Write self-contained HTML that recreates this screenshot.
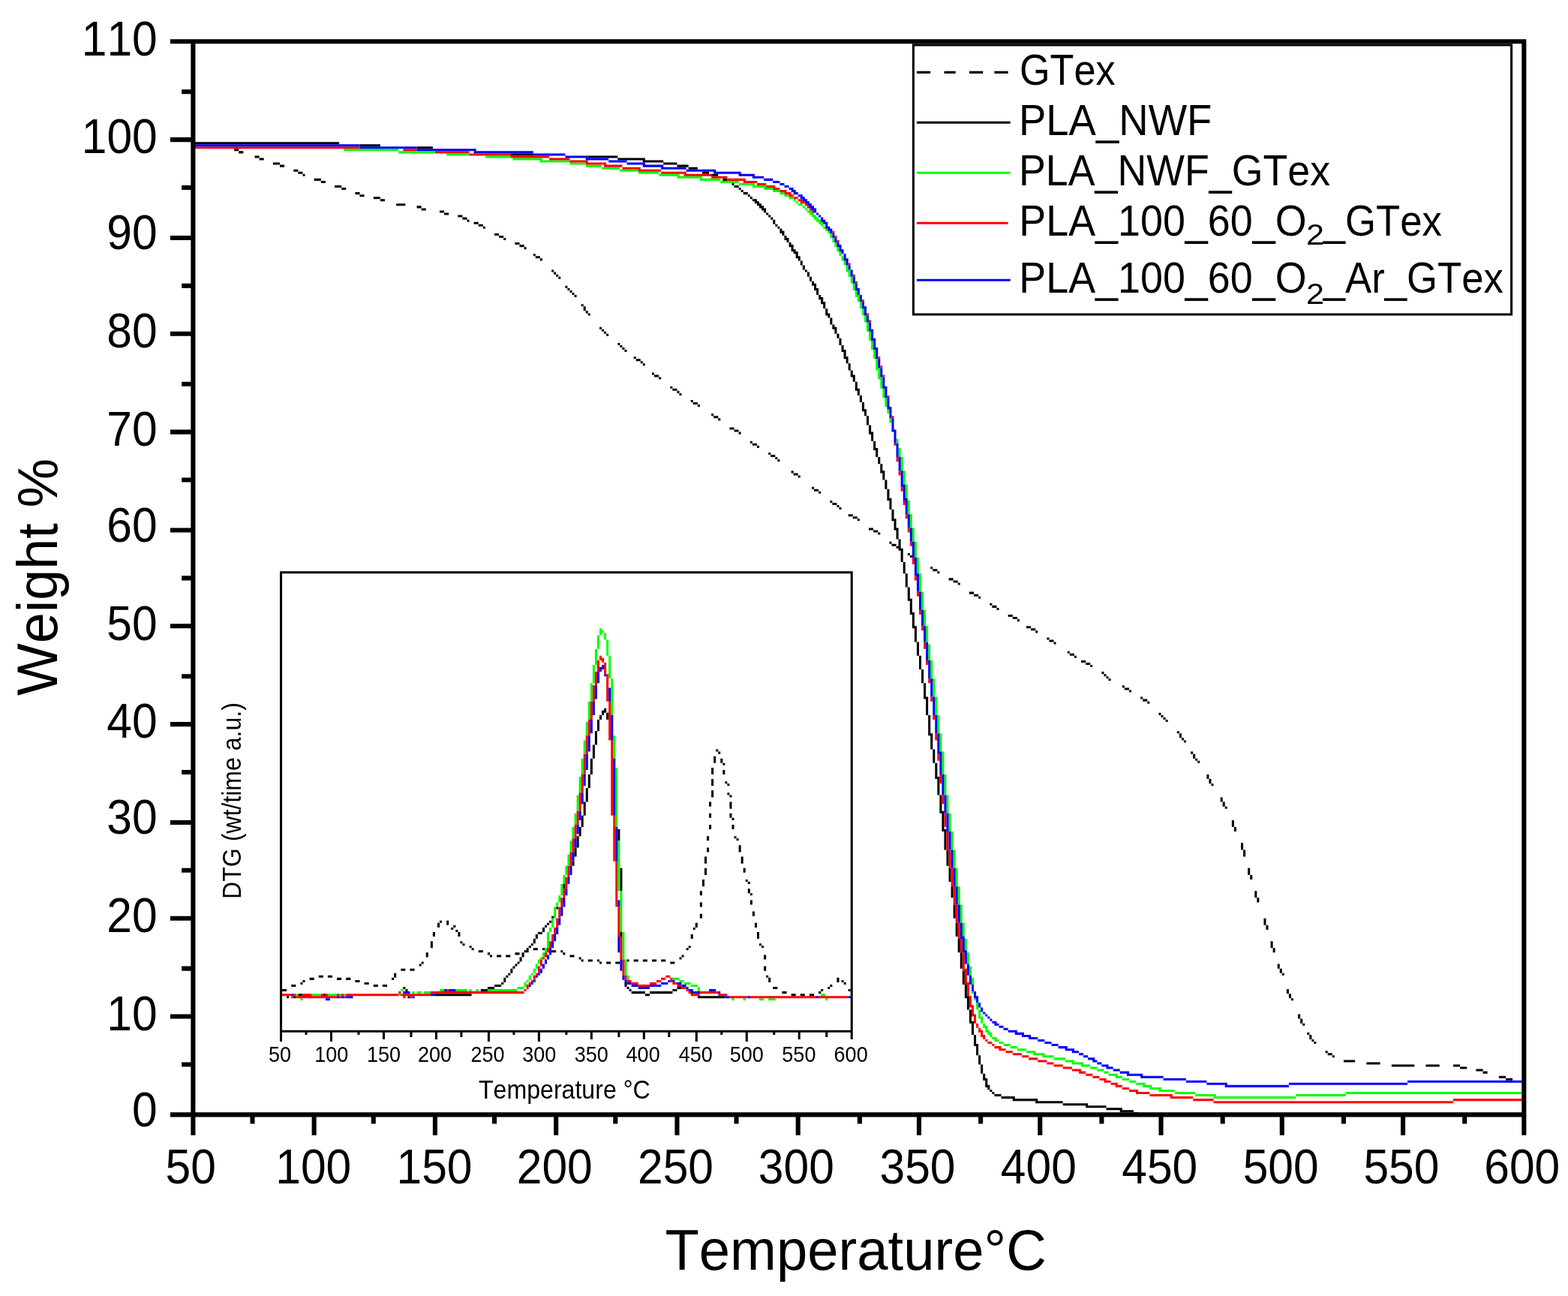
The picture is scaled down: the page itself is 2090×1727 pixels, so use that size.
<!DOCTYPE html>
<html lang="en"><head><meta charset="utf-8"><title>TGA / DTG curves</title>
<style>html,body{margin:0;padding:0;background:#fff}body{width:2090px;height:1727px;overflow:hidden}svg{display:block}text{font-family:"Liberation Sans", Arial, Helvetica, sans-serif;font-kerning:none;fill:#000}</style></head><body>
<svg width="2090" height="1727" viewBox="0 0 2090 1727">
<rect width="2090" height="1727" fill="#fff"/>
<g id="main-curves">
<path fill="#000" d="M257.39 189.17H452.12V192.22H257.39zM479.51 192.22H506.89V195.26H479.51zM555.58 195.26H576.88V198.3H555.58zM312.16 198.3H318.24V201.34H312.16zM318.24 201.34H324.33V204.39H318.24zM631.65 201.34H634.69V204.39H631.65zM680.33 204.39H710.76V207.43H680.33zM339.54 207.43H345.63V210.47H339.54zM783.79 207.43H823.35V210.47H783.79zM345.63 210.47H351.71V213.52H345.63zM823.35 210.47H859.86V213.52H823.35zM856.82 213.52H884.2V216.56H856.82zM363.88 216.56H373.01V219.6H363.88zM884.2 216.56H902.46V219.6H884.2zM373.01 219.6H379.1V222.64H373.01zM902.46 219.6H917.67V222.64H902.46zM917.67 222.64H929.84V225.69H917.67zM391.27 225.69H397.35V228.73H391.27zM397.35 228.73H403.44V231.77H397.35zM935.93 228.73H945.06V231.77H935.93zM403.44 231.77H406.48V234.82H403.44zM948.1 231.77H957.23V234.82H948.1zM418.65 237.86H427.78V240.9H418.65zM963.31 237.86H969.4V240.9H963.31zM427.78 240.9H433.87V243.94H427.78zM975.49 243.94H978.53V246.99H975.49zM446.04 246.99H455.17V250.03H446.04zM978.53 246.99H984.61V250.03H978.53zM455.17 250.03H461.25V253.07H455.17zM984.61 250.03H987.66V253.07H984.61zM987.66 253.07H990.7V256.12H987.66zM473.42 256.12H479.51V259.16H473.42zM990.7 256.12H996.79V259.16H990.7zM479.51 259.16H485.6V262.2H479.51zM996.79 259.16H999.83V262.2H996.79zM497.77 262.2H506.89V265.24H497.77zM999.83 262.2H1002.87V265.24H999.83zM506.89 265.24H512.98V268.29H506.89zM1002.87 265.24H1008.96V268.29H1002.87zM1005.91 268.29H1012V271.33H1005.91zM528.19 271.33H540.37V274.37H528.19zM1008.96 271.33H1015.04V274.37H1008.96zM555.58 274.37H561.67V277.41H555.58zM1012 274.37H1018.09V277.41H1012zM561.67 277.41H567.75V280.46H561.67zM1015.04 277.41H1021.13V280.46H1015.04zM586.01 280.46H592.09V283.5H586.01zM1018.09 280.46H1021.13V283.5H1018.09zM592.09 283.5H598.18V286.54H592.09zM1021.13 283.5H1024.17V286.54H1021.13zM610.35 286.54H616.44V289.59H610.35zM1024.17 286.54H1027.21V289.59H1024.17zM616.44 289.59H622.52V292.63H616.44zM1027.21 289.59H1030.26V292.63H1027.21zM622.52 292.63H625.56V295.67H622.52zM1030.26 292.63H1033.3V298.71H1030.26zM631.65 295.67H637.74V298.71H631.65zM637.74 298.71H643.82V301.76H637.74zM1033.3 298.71H1036.34V301.76H1033.3zM643.82 301.76H646.86V304.8H643.82zM1036.34 301.76H1039.38V304.8H1036.34zM1039.38 304.8H1042.43V307.84H1039.38zM1039.38 307.84H1045.47V310.89H1039.38zM659.03 310.89H665.12V313.93H659.03zM1042.43 310.89H1045.47V313.93H1042.43zM665.12 313.93H671.21V316.97H665.12zM1045.47 313.93H1048.51V316.97H1045.47zM671.21 316.97H674.25V320.01H671.21zM1045.47 316.97H1051.56V320.01H1045.47zM1048.51 320.01H1051.56V323.06H1048.51zM686.42 323.06H692.51V326.1H686.42zM1051.56 323.06H1054.6V326.1H1051.56zM692.51 326.1H698.59V329.14H692.51zM1051.56 326.1H1057.64V329.14H1051.56zM698.59 329.14H701.63V332.19H698.59zM1054.6 329.14H1057.64V332.19H1054.6zM1054.6 332.19H1060.68V335.23H1054.6zM1057.64 335.23H1063.73V338.27H1057.64zM710.76 338.27H713.81V341.31H710.76zM1060.68 338.27H1063.73V341.31H1060.68zM713.81 341.31H719.89V344.36H713.81zM1060.68 341.31H1066.77V344.36H1060.68zM719.89 344.36H722.93V347.4H719.89zM1063.73 344.36H1066.77V347.4H1063.73zM1066.77 347.4H1069.81V353.48H1066.77zM1069.81 353.48H1072.86V359.57H1069.81zM735.1 359.57H738.15V362.61H735.1zM1072.86 359.57H1075.9V362.61H1072.86zM738.15 362.61H741.19V365.66H738.15zM1075.9 362.61H1078.94V368.7H1075.9zM741.19 365.66H744.23V368.7H741.19zM744.23 368.7H747.28V371.74H744.23zM1078.94 368.7H1081.98V374.78H1078.94zM1081.98 374.78H1085.03V377.83H1081.98zM1081.98 377.83H1088.07V380.87H1081.98zM753.36 380.87H756.4V383.91H753.36zM1085.03 380.87H1088.07V383.91H1085.03zM756.4 383.91H759.45V386.96H756.4zM1085.03 383.91H1091.11V386.96H1085.03zM759.45 386.96H762.49V390H759.45zM1088.07 386.96H1091.11V393.04H1088.07zM762.49 390H765.53V393.04H762.49zM765.53 393.04H768.58V396.08H765.53zM1091.11 393.04H1094.16V396.08H1091.11zM1091.11 396.08H1097.2V399.13H1091.11zM1094.16 399.13H1097.2V402.17H1094.16zM1094.16 402.17H1100.24V405.21H1094.16zM774.66 405.21H777.7V408.26H774.66zM1097.2 405.21H1100.24V411.3H1097.2zM777.7 408.26H780.75V414.34H777.7zM1100.24 411.3H1103.28V417.38H1100.24zM780.75 414.34H783.79V417.38H780.75zM783.79 417.38H786.83V420.43H783.79zM1100.24 417.38H1106.33V420.43H1100.24zM1103.28 420.43H1106.33V423.47H1103.28zM1106.33 423.47H1109.37V432.6H1106.33zM1109.37 432.6H1112.41V435.64H1109.37zM799 435.64H802.05V438.68H799zM1109.37 435.64H1115.45V438.68H1109.37zM802.05 438.68H805.09V441.73H802.05zM1112.41 438.68H1115.45V444.77H1112.41zM805.09 441.73H808.13V444.77H805.09zM808.13 444.77H811.17V447.81H808.13zM1115.45 444.77H1118.5V450.85H1115.45zM1118.5 450.85H1121.54V459.98H1118.5zM823.35 456.94H826.39V459.98H823.35zM826.39 459.98H829.43V463.03H826.39zM1121.54 459.98H1124.58V466.07H1121.54zM829.43 463.03H832.47V466.07H829.43zM832.47 466.07H835.52V469.11H832.47zM1121.54 466.07H1127.63V469.11H1121.54zM1124.58 469.11H1127.63V475.2H1124.58zM844.65 475.2H847.69V478.24H844.65zM1124.58 475.2H1130.67V478.24H1124.58zM847.69 478.24H853.77V481.28H847.69zM1127.63 478.24H1130.67V484.33H1127.63zM853.77 481.28H856.82V484.33H853.77zM856.82 484.33H859.86V487.37H856.82zM1130.67 484.33H1133.71V493.45H1130.67zM1133.71 493.45H1136.75V499.54H1133.71zM868.99 496.5H872.03V499.54H868.99zM872.03 499.54H878.12V502.58H872.03zM1133.71 499.54H1139.8V502.58H1133.71zM878.12 502.58H881.16V505.62H878.12zM1136.75 502.58H1139.8V508.67H1136.75zM1139.8 508.67H1142.84V517.8H1139.8zM893.33 514.75H896.37V517.8H893.33zM896.37 517.8H902.46V520.84H896.37zM1139.8 517.8H1145.88V520.84H1139.8zM902.46 520.84H905.5V523.88H902.46zM1142.84 520.84H1145.88V526.92H1142.84zM905.5 523.88H908.54V526.92H905.5zM1145.88 526.92H1148.93V536.05H1145.88zM920.72 533.01H923.76V536.05H920.72zM923.76 536.05H929.84V539.1H923.76zM1148.93 536.05H1151.97V545.18H1148.93zM929.84 539.1H932.89V542.14H929.84zM1148.93 545.18H1155.01V548.22H1148.93zM1151.97 548.22H1155.01V554.31H1151.97zM948.1 551.27H951.14V554.31H948.1zM951.14 554.31H957.23V557.35H951.14zM1155.01 554.31H1158.05V566.48H1155.01zM957.23 557.35H960.27V560.4H957.23zM1158.05 566.48H1161.1V575.61H1158.05zM972.44 569.52H978.53V572.57H972.44zM978.53 572.57H984.61V575.61H978.53zM984.61 575.61H987.66V578.65H984.61zM1158.05 575.61H1164.14V578.65H1158.05zM1161.1 578.65H1164.14V587.78H1161.1zM999.83 587.78H1002.87V590.82H999.83zM1164.14 587.78H1167.18V596.91H1164.14zM1002.87 590.82H1008.96V593.87H1002.87zM1008.96 593.87H1012V596.91H1008.96zM1164.14 596.91H1170.23V599.95H1164.14zM1167.18 599.95H1170.23V609.08H1167.18zM1024.17 602.99H1027.21V606.04H1024.17zM1027.21 606.04H1033.3V609.08H1027.21zM1033.3 609.08H1036.34V612.12H1033.3zM1170.23 609.08H1173.27V618.21H1170.23zM1036.34 612.12H1039.38V615.17H1036.34zM1173.27 618.21H1176.31V627.34H1173.27zM1054.6 627.34H1057.64V630.38H1054.6zM1173.27 627.34H1179.35V630.38H1173.27zM1057.64 630.38H1063.73V633.42H1057.64zM1176.31 630.38H1179.35V639.51H1176.31zM1063.73 633.42H1066.77V636.47H1063.73zM1179.35 639.51H1182.4V651.68H1179.35zM1081.98 648.64H1085.03V651.68H1081.98zM1085.03 651.68H1091.11V654.72H1085.03zM1182.4 651.68H1185.44V663.85H1182.4zM1091.11 654.72H1094.16V657.76H1091.11zM1182.4 663.85H1188.48V666.89H1182.4zM1106.33 666.89H1109.37V669.94H1106.33zM1185.44 666.89H1188.48V679.06H1185.44zM1109.37 669.94H1115.45V672.98H1109.37zM1115.45 672.98H1118.5V676.02H1115.45zM1118.5 676.02H1121.54V679.06H1118.5zM1188.48 679.06H1191.52V691.24H1188.48zM1130.67 685.15H1136.75V688.19H1130.67zM1136.75 688.19H1142.84V691.24H1136.75zM1142.84 691.24H1145.88V694.28H1142.84zM1188.48 691.24H1194.57V694.28H1188.48zM1191.52 694.28H1194.57V703.41H1191.52zM1158.05 703.41H1164.14V706.45H1158.05zM1191.52 703.41H1197.61V706.45H1191.52zM1164.14 706.45H1170.23V709.49H1164.14zM1194.57 706.45H1197.61V718.62H1194.57zM1170.23 709.49H1173.27V712.54H1170.23zM1197.61 718.62H1200.65V727.75H1197.61zM1185.44 721.66H1188.48V724.71H1185.44zM1188.48 724.71H1194.57V727.75H1188.48zM1194.57 727.75H1200.65V730.79H1194.57zM1197.61 730.79H1203.7V733.83H1197.61zM1200.65 733.83H1203.7V749.05H1200.65zM1209.78 736.88H1212.82V739.92H1209.78zM1212.82 739.92H1215.87V742.96H1212.82zM1203.7 749.05H1206.74V764.26H1203.7zM1240.21 755.13H1243.25V758.18H1240.21zM1243.25 758.18H1249.34V761.22H1243.25zM1249.34 761.22H1252.38V764.26H1249.34zM1206.74 764.26H1209.78V782.52H1206.74zM1264.55 770.35H1270.64V773.39H1264.55zM1270.64 773.39H1276.72V776.43H1270.64zM1276.72 776.43H1279.77V779.48H1276.72zM1209.78 782.52H1212.82V797.73H1209.78zM1291.94 788.61H1298.02V791.65H1291.94zM1298.02 791.65H1304.11V794.69H1298.02zM1304.11 794.69H1307.15V797.73H1304.11zM1209.78 797.73H1215.87V800.78H1209.78zM1212.82 800.78H1215.87V815.99H1212.82zM1319.32 803.82H1322.37V806.86H1319.32zM1322.37 806.86H1328.45V809.9H1322.37zM1328.45 809.9H1331.49V812.95H1328.45zM1212.82 815.99H1218.91V819.03H1212.82zM1215.87 819.03H1218.91V834.25H1215.87zM1343.66 819.03H1349.75V822.08H1343.66zM1349.75 822.08H1355.84V825.12H1349.75zM1355.84 825.12H1358.88V828.16H1355.84zM1215.87 834.25H1221.95V837.29H1215.87zM1368.01 834.25H1374.09V837.29H1368.01zM1218.91 837.29H1221.95V855.55H1218.91zM1374.09 837.29H1380.18V840.33H1374.09zM1380.18 840.33H1383.22V843.38H1380.18zM1395.39 849.46H1398.44V852.5H1395.39zM1398.44 852.5H1404.52V855.55H1398.44zM1221.95 855.55H1225V873.8H1221.95zM1404.52 855.55H1407.56V858.59H1404.52zM1422.78 867.72H1425.82V870.76H1422.78zM1425.82 870.76H1431.91V873.8H1425.82zM1225 873.8H1228.04V892.06H1225zM1431.91 873.8H1434.95V876.85H1431.91zM1441.03 879.89H1447.12V882.93H1441.03zM1447.12 882.93H1453.21V885.97H1447.12zM1453.21 885.97H1456.25V889.02H1453.21zM1228.04 892.06H1231.08V910.32H1228.04zM1468.42 895.1H1471.46V898.15H1468.42zM1471.46 898.15H1474.51V901.19H1471.46zM1474.51 901.19H1477.55V904.23H1474.51zM1477.55 904.23H1480.59V907.27H1477.55zM1231.08 910.32H1234.12V928.57H1231.08zM1495.8 913.36H1498.85V916.4H1495.8zM1498.85 916.4H1504.93V919.45H1498.85zM1504.93 919.45H1507.98V922.49H1504.93zM1231.08 928.57H1237.17V931.62H1231.08zM1520.15 928.57H1523.19V931.62H1520.15zM1234.12 931.62H1237.17V952.92H1234.12zM1523.19 931.62H1529.28V934.66H1523.19zM1529.28 934.66H1532.32V937.7H1529.28zM1544.49 949.87H1547.53V952.92H1544.49zM1237.17 952.92H1240.21V977.26H1237.17zM1547.53 952.92H1550.58V955.96H1547.53zM1550.58 955.96H1553.62V959H1550.58zM1553.62 959H1556.66V962.04H1553.62zM1568.83 974.22H1571.87V977.26H1568.83zM1237.17 977.26H1243.25V980.3H1237.17zM1571.87 977.26H1574.92V983.34H1571.87zM1240.21 980.3H1243.25V998.56H1240.21zM1574.92 983.34H1577.96V986.39H1574.92zM1577.96 986.39H1581V989.43H1577.96zM1243.25 998.56H1246.3V1016.82H1243.25zM1587.09 1001.6H1590.13V1004.64H1587.09zM1590.13 1004.64H1593.17V1010.73H1590.13zM1593.17 1010.73H1596.22V1013.77H1593.17zM1596.22 1013.77H1599.26V1016.82H1596.22zM1246.3 1016.82H1249.34V1035.07H1246.3zM1608.39 1032.03H1611.43V1038.11H1608.39zM1246.3 1035.07H1252.38V1038.11H1246.3zM1249.34 1038.11H1252.38V1059.41H1249.34zM1611.43 1038.11H1614.47V1044.2H1611.43zM1614.47 1044.2H1617.52V1047.24H1614.47zM1252.38 1059.41H1255.42V1080.71H1252.38zM1626.65 1062.46H1629.69V1068.54H1626.65zM1629.69 1068.54H1632.73V1074.63H1629.69zM1632.73 1074.63H1635.77V1077.67H1632.73zM1252.38 1080.71H1258.47V1083.76H1252.38zM1255.42 1083.76H1258.47V1105.06H1255.42zM1641.86 1092.89H1644.9V1102.01H1641.86zM1644.9 1102.01H1647.94V1108.1H1644.9zM1255.42 1105.06H1261.51V1108.1H1255.42zM1258.47 1108.1H1261.51V1132.44H1258.47zM1654.03 1123.31H1657.07V1132.44H1654.03zM1261.51 1132.44H1264.55V1153.74H1261.51zM1657.07 1132.44H1660.12V1141.57H1657.07zM1264.55 1156.78H1267.59V1175.04H1264.55zM1663.16 1156.78H1666.2V1165.91H1663.16zM1666.2 1165.91H1669.24V1172H1666.2zM1267.59 1181.13H1270.64V1196.34H1267.59zM1672.29 1187.21H1675.33V1196.34H1672.29zM1675.33 1196.34H1678.37V1202.43H1675.33zM1270.64 1205.47H1273.68V1223.73H1270.64zM1684.46 1223.73H1687.5V1232.85H1684.46zM1273.68 1229.81H1276.72V1248.07H1273.68zM1687.5 1232.85H1690.54V1238.94H1687.5zM1276.72 1251.11H1279.77V1269.37H1276.72zM1693.59 1254.15H1696.63V1263.28H1693.59zM1696.63 1263.28H1699.67V1269.37H1696.63zM1279.77 1269.37H1282.81V1290.67H1279.77zM1702.72 1284.58H1705.76V1290.67H1702.72zM1705.76 1290.67H1708.8V1296.75H1705.76zM1282.81 1293.71H1285.85V1311.97H1282.81zM1708.8 1296.75H1711.84V1299.8H1708.8zM1285.85 1311.97H1288.89V1327.18H1285.85zM1714.89 1318.05H1717.93V1324.14H1714.89zM1717.93 1324.14H1720.97V1330.22H1717.93zM1285.85 1327.18H1291.94V1330.22H1285.85zM1288.89 1330.22H1291.94V1345.44H1288.89zM1720.97 1330.22H1724.01V1333.27H1720.97zM1291.94 1345.44H1294.98V1360.65H1291.94zM1730.1 1351.52H1733.14V1357.61H1730.1zM1733.14 1357.61H1736.19V1363.69H1733.14zM1291.94 1360.65H1298.02V1363.69H1291.94zM1294.98 1363.69H1298.02V1378.91H1294.98zM1736.19 1363.69H1739.23V1366.74H1736.19zM1742.27 1375.87H1745.31V1378.91H1742.27zM1298.02 1378.91H1301.07V1391.08H1298.02zM1745.31 1378.91H1748.36V1384.99H1745.31zM1748.36 1384.99H1751.4V1388.04H1748.36zM1751.4 1388.04H1754.44V1391.08H1751.4zM1298.02 1391.08H1304.11V1394.12H1298.02zM1301.07 1394.12H1304.11V1406.29H1301.07zM1766.61 1400.21H1769.66V1403.25H1766.61zM1769.66 1403.25H1775.74V1406.29H1769.66zM1304.11 1406.29H1307.15V1418.46H1304.11zM1775.74 1406.29H1778.79V1409.34H1775.74zM1790.96 1412.38H1806.17V1415.42H1790.96zM1821.38 1415.42H1839.64V1418.46H1821.38zM1307.15 1418.46H1310.19V1430.64H1307.15zM1854.86 1418.46H1885.28V1421.51H1854.86zM1900.5 1418.46H1918.75V1421.51H1900.5zM1937.01 1418.46H1946.14V1421.51H1937.01zM1946.14 1421.51H1955.27V1424.55H1946.14zM1967.44 1424.55H1976.57V1427.59H1967.44zM1976.57 1427.59H1982.65V1430.64H1976.57zM1310.19 1430.64H1313.24V1436.72H1310.19zM1997.87 1433.68H2007V1436.72H1997.87zM1310.19 1436.72H1316.28V1439.76H1310.19zM2007 1436.72H2016.12V1439.76H2007zM1313.24 1439.76H1316.28V1445.85H1313.24zM1313.24 1445.85H1319.32V1448.89H1313.24zM1316.28 1448.89H1319.32V1451.94H1316.28zM1319.32 1451.94H1322.37V1454.98H1319.32zM1322.37 1454.98H1325.41V1458.02H1322.37zM1325.41 1458.02H1334.54V1461.06H1325.41zM1334.54 1461.06H1352.79V1464.11H1334.54zM1349.75 1464.11H1383.22V1467.15H1349.75zM1380.18 1467.15H1416.69V1470.19H1380.18zM1416.69 1470.19H1450.16V1473.24H1416.69zM1447.12 1473.24H1474.51V1476.28H1447.12zM1474.51 1476.28H1495.8V1479.32H1474.51zM1492.76 1479.32H1511.02V1482.36H1492.76zM1511.02 1482.36H1517.1V1485.41H1511.02z"/>
<path fill="#00ff00" d="M458.21 198.3H531.24V201.34H458.21zM531.24 201.34H579.92V204.39H531.24zM595.14 204.39H625.56V207.43H595.14zM646.86 207.43H680.33V210.47H646.86zM683.38 210.47H722.93V213.52H683.38zM719.89 213.52H759.45V216.56H719.89zM759.45 216.56H780.75V219.6H759.45zM780.75 219.6H802.05V222.64H780.75zM802.05 222.64H826.39V225.69H802.05zM826.39 225.69H850.73V228.73H826.39zM850.73 228.73H878.12V231.77H850.73zM878.12 231.77H905.5V234.82H878.12zM902.46 234.82H935.93V237.86H902.46zM932.89 237.86H960.27V240.9H932.89zM960.27 240.9H984.61V243.94H960.27zM984.61 243.94H1005.91V246.99H984.61zM1002.87 246.99H1021.13V250.03H1002.87zM1018.09 250.03H1030.26V253.07H1018.09zM1030.26 253.07H1039.38V256.12H1030.26zM1039.38 256.12H1045.47V259.16H1039.38zM1045.47 259.16H1051.56V262.2H1045.47zM1051.56 262.2H1057.64V265.24H1051.56zM1057.64 265.24H1060.68V268.29H1057.64zM1060.68 268.29H1063.73V271.33H1060.68zM1063.73 271.33H1069.81V274.37H1063.73zM1069.81 274.37H1072.86V277.41H1069.81zM1072.86 277.41H1075.9V280.46H1072.86zM1075.9 280.46H1081.98V283.5H1075.9zM1078.94 283.5H1085.03V286.54H1078.94zM1081.98 286.54H1088.07V289.59H1081.98zM1085.03 289.59H1091.11V292.63H1085.03zM1088.07 292.63H1094.16V295.67H1088.07zM1091.11 295.67H1097.2V298.71H1091.11zM1094.16 298.71H1097.2V301.76H1094.16zM1097.2 301.76H1100.24V304.8H1097.2zM1100.24 304.8H1103.28V307.84H1100.24zM1103.28 307.84H1106.33V310.89H1103.28zM1106.33 310.89H1109.37V316.97H1106.33zM1109.37 316.97H1112.41V323.06H1109.37zM1112.41 323.06H1115.45V329.14H1112.41zM1115.45 329.14H1118.5V335.23H1115.45zM1118.5 335.23H1121.54V341.31H1118.5zM1121.54 341.31H1124.58V347.4H1121.54zM1124.58 347.4H1127.63V353.48H1124.58zM1127.63 353.48H1130.67V359.57H1127.63zM1127.63 359.57H1133.71V362.61H1127.63zM1130.67 362.61H1133.71V368.7H1130.67zM1133.71 368.7H1136.75V377.83H1133.71zM1136.75 377.83H1139.8V386.96H1136.75zM1139.8 386.96H1142.84V393.04H1139.8zM1139.8 393.04H1145.88V396.08H1139.8zM1142.84 396.08H1145.88V402.17H1142.84zM1145.88 402.17H1148.93V411.3H1145.88zM1148.93 411.3H1151.97V420.43H1148.93zM1151.97 420.43H1155.01V429.55H1151.97zM1155.01 429.55H1158.05V441.73H1155.01zM1158.05 441.73H1161.1V453.9H1158.05zM1161.1 453.9H1164.14V466.07H1161.1zM1164.14 466.07H1167.18V478.24H1164.14zM1167.18 478.24H1170.23V490.41H1167.18zM1167.18 490.41H1173.27V493.45H1167.18zM1170.23 493.45H1173.27V502.58H1170.23zM1170.23 502.58H1176.31V505.62H1170.23zM1173.27 505.62H1176.31V517.8H1173.27zM1176.31 517.8H1179.35V529.97H1176.31zM1179.35 529.97H1182.4V542.14H1179.35zM1182.4 545.18H1185.44V551.27H1182.4zM1185.44 557.35H1188.48V563.44H1185.44zM1194.57 584.74H1197.61V590.82H1194.57zM1197.61 596.91H1200.65V609.08H1197.61zM1200.65 609.08H1203.7V627.34H1200.65zM1203.7 627.34H1206.74V645.59H1203.7zM1206.74 645.59H1209.78V663.85H1206.74zM1209.78 666.89H1212.82V685.15H1209.78zM1212.82 685.15H1215.87V703.41H1212.82zM1215.87 703.41H1218.91V721.66H1215.87zM1218.91 721.66H1221.95V742.96H1218.91zM1221.95 742.96H1225V764.26H1221.95zM1225 764.26H1228.04V788.61H1225zM1228.04 788.61H1231.08V812.95H1228.04zM1231.08 812.95H1234.12V834.25H1231.08zM1234.12 834.25H1237.17V855.55H1234.12zM1237.17 858.59H1240.21V879.89H1237.17zM1240.21 879.89H1243.25V904.23H1240.21zM1243.25 904.23H1246.3V928.57H1243.25zM1246.3 928.57H1249.34V952.92H1246.3zM1249.34 952.92H1252.38V977.26H1249.34zM1252.38 977.26H1255.42V1001.6H1252.38zM1255.42 1001.6H1258.47V1032.03H1255.42zM1258.47 1032.03H1261.51V1059.41H1258.47zM1261.51 1059.41H1264.55V1083.76H1261.51zM1264.55 1083.76H1267.59V1108.1H1264.55zM1267.59 1108.1H1270.64V1132.44H1267.59zM1270.64 1132.44H1273.68V1156.78H1270.64zM1273.68 1156.78H1276.72V1181.13H1273.68zM1276.72 1181.13H1279.77V1205.47H1276.72zM1279.77 1205.47H1282.81V1229.81H1279.77zM1282.81 1229.81H1285.85V1248.07H1282.81zM1285.85 1251.11H1288.89V1266.32H1285.85zM1288.89 1269.37H1291.94V1284.58H1288.89zM1291.94 1287.62H1294.98V1299.8H1291.94zM1294.98 1302.84H1298.02V1311.97H1294.98zM1294.98 1321.1H1298.02V1324.14H1294.98zM1298.02 1330.22H1301.07V1333.27H1298.02zM1301.07 1336.31H1304.11V1345.44H1301.07zM1304.11 1345.44H1307.15V1354.57H1304.11zM1304.11 1354.57H1310.19V1357.61H1304.11zM1307.15 1357.61H1310.19V1363.69H1307.15zM1310.19 1363.69H1313.24V1366.74H1310.19zM1310.19 1366.74H1316.28V1369.78H1310.19zM1313.24 1369.78H1316.28V1372.82H1313.24zM1313.24 1372.82H1319.32V1375.87H1313.24zM1316.28 1375.87H1322.37V1378.91H1316.28zM1319.32 1378.91H1322.37V1381.95H1319.32zM1322.37 1381.95H1328.45V1384.99H1322.37zM1325.41 1384.99H1331.49V1388.04H1325.41zM1331.49 1388.04H1337.58V1391.08H1331.49zM1337.58 1391.08H1346.71V1394.12H1337.58zM1346.71 1394.12H1355.84V1397.17H1346.71zM1355.84 1397.17H1368.01V1400.21H1355.84zM1368.01 1400.21H1380.18V1403.25H1368.01zM1377.14 1403.25H1392.35V1406.29H1377.14zM1389.31 1406.29H1404.52V1409.34H1389.31zM1404.52 1409.34H1419.73V1412.38H1404.52zM1419.73 1412.38H1431.91V1415.42H1419.73zM1428.86 1415.42H1444.08V1418.46H1428.86zM1441.03 1418.46H1453.21V1421.51H1441.03zM1453.21 1421.51H1462.33V1424.55H1453.21zM1462.33 1424.55H1471.46V1427.59H1462.33zM1471.46 1427.59H1477.55V1430.64H1471.46zM1477.55 1430.64H1489.72V1433.68H1477.55zM1486.68 1433.68H1495.8V1436.72H1486.68zM1495.8 1436.72H1504.93V1439.76H1495.8zM1504.93 1439.76H1514.06V1442.81H1504.93zM1514.06 1442.81H1526.23V1445.85H1514.06zM1523.19 1445.85H1535.36V1448.89H1523.19zM1532.32 1448.89H1547.53V1451.94H1532.32zM1544.49 1451.94H1565.79V1454.98H1544.49zM1565.79 1454.98H1593.17V1458.02H1565.79zM1794 1454.98H2031.34V1458.02H1794zM1593.17 1458.02H1620.56V1461.06H1593.17zM1727.06 1458.02H1794V1461.06H1727.06zM1617.52 1461.06H1727.06V1464.11H1617.52z"/>
<path fill="#ff0000" d="M257.39 195.26H479.51V198.3H257.39zM537.32 198.3H555.58V201.34H537.32zM579.92 201.34H625.56V204.39H579.92zM625.56 204.39H680.33V207.43H625.56zM680.33 207.43H732.06V210.47H680.33zM732.06 210.47H759.45V213.52H732.06zM759.45 213.52H783.79V216.56H759.45zM780.75 216.56H808.13V219.6H780.75zM805.09 219.6H829.43V222.64H805.09zM829.43 222.64H853.77V225.69H829.43zM850.73 225.69H881.16V228.73H850.73zM881.16 228.73H914.63V231.77H881.16zM911.59 231.77H948.1V234.82H911.59zM948.1 234.82H969.4V237.86H948.1zM969.4 237.86H993.74V240.9H969.4zM990.7 240.9H1008.96V243.94H990.7zM1008.96 243.94H1021.13V246.99H1008.96zM1021.13 246.99H1033.3V250.03H1021.13zM1030.26 250.03H1039.38V253.07H1030.26zM1039.38 253.07H1048.51V256.12H1039.38zM1045.47 256.12H1054.6V259.16H1045.47zM1051.56 259.16H1057.64V262.2H1051.56zM1057.64 262.2H1063.73V265.24H1057.64zM1063.73 265.24H1069.81V268.29H1063.73zM1066.77 268.29H1072.86V271.33H1066.77zM1072.86 271.33H1075.9V274.37H1072.86zM1075.9 274.37H1078.94V277.41H1075.9zM1078.94 277.41H1081.98V280.46H1078.94zM1081.98 280.46H1085.03V283.5H1081.98zM1109.37 307.84H1112.41V310.89H1109.37zM1112.41 313.93H1115.45V316.97H1112.41zM1115.45 320.01H1118.5V323.06H1115.45zM1130.67 350.44H1133.71V353.48H1130.67zM1136.75 365.66H1139.8V368.7H1136.75zM1139.8 374.78H1142.84V377.83H1139.8zM1148.93 399.13H1151.97V402.17H1148.93zM1155.01 417.38H1158.05V420.43H1155.01zM1158.05 426.51H1161.1V429.55H1158.05zM1170.23 475.2H1173.27V478.24H1170.23zM1173.27 487.37H1176.31V490.41H1173.27zM1176.31 499.54H1179.35V502.58H1176.31zM1182.4 526.92H1185.44V529.97H1182.4zM1188.48 554.31H1191.52V557.35H1188.48zM1191.52 590.82H1194.57V593.87H1191.52zM1194.57 609.08H1197.61V615.17H1194.57zM1197.61 627.34H1200.65V633.42H1197.61zM1200.65 648.64H1203.7V654.72H1200.65zM1203.7 666.89H1206.74V672.98H1203.7zM1206.74 685.15H1209.78V691.24H1206.74zM1209.78 703.41H1212.82V709.49H1209.78zM1212.82 721.66H1215.87V727.75H1212.82zM1215.87 742.96H1218.91V752.09H1215.87zM1218.91 767.31H1221.95V773.39H1218.91zM1221.95 788.61H1225V794.69H1221.95zM1225 812.95H1228.04V819.03H1225zM1228.04 834.25H1231.08V840.33H1228.04zM1231.08 855.55H1234.12V864.68H1231.08zM1234.12 879.89H1237.17V885.97H1234.12zM1237.17 904.23H1240.21V910.32H1237.17zM1240.21 928.57H1243.25V934.66H1240.21zM1243.25 952.92H1246.3V959H1243.25zM1246.3 977.26H1249.34V986.39H1246.3zM1249.34 1004.64H1252.38V1013.77H1249.34zM1252.38 1032.03H1255.42V1044.2H1252.38zM1255.42 1059.41H1258.47V1071.59H1255.42zM1258.47 1083.76H1261.51V1102.01H1258.47zM1261.51 1108.1H1264.55V1132.44H1261.51zM1264.55 1132.44H1267.59V1156.78H1264.55zM1267.59 1156.78H1270.64V1181.13H1267.59zM1270.64 1181.13H1273.68V1205.47H1270.64zM1273.68 1205.47H1276.72V1229.81H1273.68zM1276.72 1229.81H1279.77V1251.11H1276.72zM1279.77 1251.11H1282.81V1269.37H1279.77zM1282.81 1269.37H1285.85V1290.67H1282.81zM1282.81 1290.67H1288.89V1293.71H1282.81zM1285.85 1293.71H1288.89V1308.92H1285.85zM1285.85 1308.92H1291.94V1311.97H1285.85zM1288.89 1311.97H1291.94V1327.18H1288.89zM1291.94 1327.18H1294.98V1339.35H1291.94zM1291.94 1339.35H1298.02V1342.39H1291.94zM1294.98 1342.39H1298.02V1351.52H1294.98zM1294.98 1351.52H1301.07V1354.57H1294.98zM1298.02 1354.57H1301.07V1363.69H1298.02zM1301.07 1363.69H1304.11V1369.78H1301.07zM1304.11 1369.78H1307.15V1372.82H1304.11zM1304.11 1372.82H1310.19V1375.87H1304.11zM1307.15 1375.87H1310.19V1378.91H1307.15zM1307.15 1378.91H1313.24V1381.95H1307.15zM1310.19 1381.95H1313.24V1384.99H1310.19zM1313.24 1384.99H1316.28V1388.04H1313.24zM1316.28 1388.04H1322.37V1391.08H1316.28zM1322.37 1391.08H1325.41V1394.12H1322.37zM1325.41 1394.12H1334.54V1397.17H1325.41zM1331.49 1397.17H1340.62V1400.21H1331.49zM1340.62 1400.21H1349.75V1403.25H1340.62zM1349.75 1403.25H1361.92V1406.29H1349.75zM1361.92 1406.29H1371.05V1409.34H1361.92zM1371.05 1409.34H1383.22V1412.38H1371.05zM1383.22 1412.38H1395.39V1415.42H1383.22zM1395.39 1415.42H1404.52V1418.46H1395.39zM1404.52 1418.46H1416.69V1421.51H1404.52zM1416.69 1421.51H1428.86V1424.55H1416.69zM1428.86 1424.55H1441.03V1427.59H1428.86zM1437.99 1427.59H1447.12V1430.64H1437.99zM1447.12 1430.64H1456.25V1433.68H1447.12zM1456.25 1433.68H1465.38V1436.72H1456.25zM1465.38 1436.72H1474.51V1439.76H1465.38zM1471.46 1439.76H1480.59V1442.81H1471.46zM1480.59 1442.81H1489.72V1445.85H1480.59zM1486.68 1445.85H1495.8V1448.89H1486.68zM1495.8 1448.89H1504.93V1451.94H1495.8zM1504.93 1451.94H1517.1V1454.98H1504.93zM1514.06 1454.98H1532.32V1458.02H1514.06zM1532.32 1458.02H1562.75V1461.06H1532.32zM1559.7 1461.06H1590.13V1464.11H1559.7zM1590.13 1464.11H1617.52V1467.15H1590.13zM1937.01 1464.11H2031.34V1467.15H1937.01zM1617.52 1467.15H1937.01V1470.19H1617.52z"/>
<path fill="#0000ff" d="M257.39 192.22H479.51V195.26H257.39zM479.51 195.26H555.58V198.3H479.51zM555.58 198.3H634.69V201.34H555.58zM634.69 201.34H710.76V204.39H634.69zM710.76 204.39H753.36V207.43H710.76zM753.36 207.43H783.79V210.47H753.36zM780.75 210.47H811.17V213.52H780.75zM811.17 213.52H835.52V216.56H811.17zM835.52 216.56H859.86V219.6H835.52zM856.82 219.6H884.2V222.64H856.82zM881.16 222.64H914.63V225.69H881.16zM914.63 225.69H954.19V228.73H914.63zM951.14 228.73H987.66V231.77H951.14zM984.61 231.77H1005.91V234.82H984.61zM1002.87 234.82H1018.09V237.86H1002.87zM1018.09 237.86H1030.26V240.9H1018.09zM1030.26 240.9H1039.38V243.94H1030.26zM1039.38 243.94H1045.47V246.99H1039.38zM1045.47 246.99H1051.56V250.03H1045.47zM1051.56 250.03H1057.64V253.07H1051.56zM1054.6 253.07H1060.68V256.12H1054.6zM1057.64 256.12H1063.73V259.16H1057.64zM1063.73 259.16H1069.81V262.2H1063.73zM1066.77 262.2H1072.86V265.24H1066.77zM1069.81 265.24H1075.9V268.29H1069.81zM1072.86 268.29H1078.94V271.33H1072.86zM1075.9 271.33H1081.98V274.37H1075.9zM1078.94 274.37H1085.03V277.41H1078.94zM1081.98 277.41H1088.07V280.46H1081.98zM1085.03 280.46H1088.07V283.5H1085.03zM1088.07 283.5H1091.11V286.54H1088.07zM1091.11 286.54H1094.16V289.59H1091.11zM1094.16 289.59H1097.2V292.63H1094.16zM1094.16 292.63H1100.24V295.67H1094.16zM1097.2 295.67H1103.28V298.71H1097.2zM1100.24 298.71H1103.28V301.76H1100.24zM1100.24 301.76H1106.33V304.8H1100.24zM1103.28 304.8H1109.37V307.84H1103.28zM1106.33 307.84H1109.37V310.89H1106.33zM1109.37 310.89H1112.41V316.97H1109.37zM1112.41 316.97H1115.45V323.06H1112.41zM1115.45 323.06H1118.5V326.1H1115.45zM1115.45 326.1H1121.54V329.14H1115.45zM1118.5 329.14H1121.54V332.19H1118.5zM1118.5 332.19H1124.58V335.23H1118.5zM1121.54 335.23H1124.58V338.27H1121.54zM1124.58 338.27H1127.63V344.36H1124.58zM1124.58 344.36H1130.67V347.4H1124.58zM1127.63 347.4H1130.67V353.48H1127.63zM1130.67 353.48H1133.71V359.57H1130.67zM1133.71 359.57H1136.75V368.7H1133.71zM1136.75 368.7H1139.8V377.83H1136.75zM1139.8 377.83H1142.84V383.91H1139.8zM1139.8 383.91H1145.88V386.96H1139.8zM1142.84 386.96H1145.88V393.04H1142.84zM1145.88 393.04H1148.93V402.17H1145.88zM1148.93 402.17H1151.97V408.26H1148.93zM1148.93 408.26H1155.01V411.3H1148.93zM1151.97 411.3H1155.01V420.43H1151.97zM1155.01 420.43H1158.05V429.55H1155.01zM1158.05 429.55H1161.1V438.68H1158.05zM1158.05 438.68H1164.14V441.73H1158.05zM1161.1 441.73H1164.14V450.85H1161.1zM1161.1 450.85H1167.18V453.9H1161.1zM1164.14 453.9H1167.18V463.03H1164.14zM1164.14 463.03H1170.23V466.07H1164.14zM1167.18 466.07H1170.23V478.24H1167.18zM1170.23 478.24H1173.27V490.41H1170.23zM1173.27 490.41H1176.31V502.58H1173.27zM1176.31 502.58H1179.35V514.75H1176.31zM1176.31 514.75H1182.4V517.8H1176.31zM1179.35 517.8H1182.4V529.97H1179.35zM1182.4 529.97H1185.44V542.14H1182.4zM1182.4 542.14H1188.48V545.18H1182.4zM1185.44 545.18H1188.48V557.35H1185.44zM1188.48 557.35H1191.52V572.57H1188.48zM1188.48 572.57H1194.57V575.61H1188.48zM1191.52 575.61H1194.57V590.82H1191.52zM1194.57 590.82H1197.61V609.08H1194.57zM1197.61 609.08H1200.65V627.34H1197.61zM1200.65 627.34H1203.7V645.59H1200.65zM1200.65 645.59H1206.74V648.64H1200.65zM1203.7 648.64H1206.74V663.85H1203.7zM1203.7 663.85H1209.78V666.89H1203.7zM1206.74 666.89H1209.78V685.15H1206.74zM1209.78 685.15H1212.82V703.41H1209.78zM1212.82 703.41H1215.87V721.66H1212.82zM1215.87 721.66H1218.91V742.96H1215.87zM1218.91 742.96H1221.95V764.26H1218.91zM1218.91 764.26H1225V767.31H1218.91zM1221.95 767.31H1225V788.61H1221.95zM1225 788.61H1228.04V812.95H1225zM1228.04 812.95H1231.08V834.25H1228.04zM1231.08 834.25H1234.12V855.55H1231.08zM1234.12 855.55H1237.17V879.89H1234.12zM1237.17 879.89H1240.21V904.23H1237.17zM1240.21 904.23H1243.25V928.57H1240.21zM1243.25 928.57H1246.3V952.92H1243.25zM1246.3 952.92H1249.34V977.26H1246.3zM1249.34 977.26H1252.38V1001.6H1249.34zM1249.34 1001.6H1255.42V1004.64H1249.34zM1252.38 1004.64H1255.42V1032.03H1252.38zM1255.42 1032.03H1258.47V1059.41H1255.42zM1258.47 1059.41H1261.51V1083.76H1258.47zM1261.51 1083.76H1264.55V1108.1H1261.51zM1264.55 1108.1H1267.59V1132.44H1264.55zM1267.59 1132.44H1270.64V1156.78H1267.59zM1270.64 1156.78H1273.68V1181.13H1270.64zM1273.68 1181.13H1276.72V1205.47H1273.68zM1276.72 1205.47H1279.77V1229.81H1276.72zM1279.77 1229.81H1282.81V1248.07H1279.77zM1279.77 1248.07H1285.85V1251.11H1279.77zM1282.81 1251.11H1285.85V1266.32H1282.81zM1282.81 1266.32H1288.89V1269.37H1282.81zM1285.85 1269.37H1288.89V1284.58H1285.85zM1288.89 1284.58H1291.94V1299.8H1288.89zM1291.94 1299.8H1294.98V1311.97H1291.94zM1294.98 1311.97H1298.02V1321.1H1294.98zM1298.02 1321.1H1301.07V1327.18H1298.02zM1298.02 1327.18H1304.11V1330.22H1298.02zM1301.07 1330.22H1304.11V1336.31H1301.07zM1304.11 1336.31H1307.15V1342.39H1304.11zM1307.15 1342.39H1310.19V1348.48H1307.15zM1310.19 1348.48H1313.24V1351.52H1310.19zM1313.24 1351.52H1316.28V1354.57H1313.24zM1316.28 1354.57H1319.32V1357.61H1316.28zM1319.32 1357.61H1322.37V1360.65H1319.32zM1322.37 1360.65H1328.45V1363.69H1322.37zM1325.41 1363.69H1331.49V1366.74H1325.41zM1331.49 1366.74H1337.58V1369.78H1331.49zM1337.58 1369.78H1343.66V1372.82H1337.58zM1343.66 1372.82H1355.84V1375.87H1343.66zM1352.79 1375.87H1364.96V1378.91H1352.79zM1361.92 1378.91H1374.09V1381.95H1361.92zM1371.05 1381.95H1383.22V1384.99H1371.05zM1383.22 1384.99H1392.35V1388.04H1383.22zM1392.35 1388.04H1401.48V1391.08H1392.35zM1401.48 1391.08H1410.61V1394.12H1401.48zM1410.61 1394.12H1422.78V1397.17H1410.61zM1419.73 1397.17H1431.91V1400.21H1419.73zM1428.86 1400.21H1437.99V1403.25H1428.86zM1437.99 1403.25H1444.08V1406.29H1437.99zM1444.08 1406.29H1450.16V1409.34H1444.08zM1450.16 1409.34H1459.29V1412.38H1450.16zM1456.25 1412.38H1462.33V1415.42H1456.25zM1462.33 1415.42H1468.42V1418.46H1462.33zM1468.42 1418.46H1477.55V1421.51H1468.42zM1474.51 1421.51H1483.63V1424.55H1474.51zM1483.63 1424.55H1492.76V1427.59H1483.63zM1492.76 1427.59H1504.93V1430.64H1492.76zM1501.89 1430.64H1523.19V1433.68H1501.89zM1520.15 1433.68H1550.58V1436.72H1520.15zM1550.58 1436.72H1581V1439.76H1550.58zM1581 1439.76H1608.39V1442.81H1581zM1876.15 1439.76H2031.34V1442.81H1876.15zM1608.39 1442.81H1635.77V1445.85H1608.39zM1717.93 1442.81H1876.15V1445.85H1717.93zM1632.73 1445.85H1717.93V1448.89H1632.73z"/>
</g>
<path id="main-axes" fill="#000" d="M226.96 52.25H2034.38V58.33H226.96zM254.34 52.25H260.43V1512.79H254.34zM2028.29 52.25H2034.38V1512.79H2028.29zM226.96 1482.36H2034.38V1488.45H226.96zM226.96 52.25H257.39V58.33H226.96zM242.17 119.19H257.39V125.27H242.17zM226.96 183.09H257.39V189.17H226.96zM242.17 246.99H257.39V253.07H242.17zM226.96 313.93H257.39V320.01H226.96zM242.17 377.83H257.39V383.91H242.17zM226.96 441.73H257.39V447.81H226.96zM242.17 508.67H257.39V514.75H242.17zM226.96 572.57H257.39V578.65H226.96zM242.17 636.47H257.39V642.55H242.17zM226.96 703.41H257.39V709.49H226.96zM242.17 767.31H257.39V773.39H242.17zM226.96 831.2H257.39V837.29H226.96zM242.17 898.15H257.39V904.23H242.17zM226.96 962.04H257.39V968.13H226.96zM242.17 1025.94H257.39V1032.03H242.17zM226.96 1092.89H257.39V1098.97H226.96zM242.17 1156.78H257.39V1162.87H242.17zM226.96 1220.68H257.39V1226.77H226.96zM242.17 1287.62H257.39V1293.71H242.17zM226.96 1351.52H257.39V1357.61H226.96zM242.17 1415.42H257.39V1421.51H242.17zM226.96 1482.36H257.39V1488.45H226.96zM254.34 1485.41H260.43V1512.79H254.34zM333.46 1485.41H339.54V1497.58H333.46zM415.61 1485.41H421.7V1512.79H415.61zM494.72 1485.41H500.81V1497.58H494.72zM576.88 1485.41H582.96V1512.79H576.88zM655.99 1485.41H662.08V1497.58H655.99zM738.15 1485.41H744.23V1512.79H738.15zM817.26 1485.41H823.35V1497.58H817.26zM899.42 1485.41H905.5V1512.79H899.42zM978.53 1485.41H984.61V1497.58H978.53zM1060.68 1485.41H1066.77V1512.79H1060.68zM1142.84 1485.41H1148.93V1497.58H1142.84zM1221.95 1485.41H1228.04V1512.79H1221.95zM1304.11 1485.41H1310.19V1497.58H1304.11zM1383.22 1485.41H1389.31V1512.79H1383.22zM1465.38 1485.41H1471.46V1497.58H1465.38zM1544.49 1485.41H1550.58V1512.79H1544.49zM1626.65 1485.41H1632.73V1497.58H1626.65zM1705.76 1485.41H1711.84V1512.79H1705.76zM1787.91 1485.41H1794V1497.58H1787.91zM1867.03 1485.41H1873.11V1512.79H1867.03zM1949.18 1485.41H1955.27V1497.58H1949.18zM2028.29 1485.41H2034.38V1512.79H2028.29z"/>
<g id="main-labels" font-size="64.4">
<text x="108.73" y="73.55" textLength="101.01" lengthAdjust="spacingAndGlyphs">110</text>
<text x="108.73" y="204.39" textLength="101.01" lengthAdjust="spacingAndGlyphs">100</text>
<text x="142.32" y="332.19" textLength="67.34" lengthAdjust="spacingAndGlyphs">90</text>
<text x="142.32" y="463.03" textLength="67.34" lengthAdjust="spacingAndGlyphs">80</text>
<text x="142.32" y="593.87" textLength="67.34" lengthAdjust="spacingAndGlyphs">70</text>
<text x="142.32" y="721.66" textLength="67.34" lengthAdjust="spacingAndGlyphs">60</text>
<text x="142.32" y="852.5" textLength="67.34" lengthAdjust="spacingAndGlyphs">50</text>
<text x="142.32" y="983.34" textLength="67.34" lengthAdjust="spacingAndGlyphs">40</text>
<text x="142.32" y="1111.14" textLength="67.34" lengthAdjust="spacingAndGlyphs">30</text>
<text x="142.32" y="1241.98" textLength="67.34" lengthAdjust="spacingAndGlyphs">20</text>
<text x="142.32" y="1372.82" textLength="67.34" lengthAdjust="spacingAndGlyphs">10</text>
<text x="175.92" y="1500.62" textLength="33.67" lengthAdjust="spacingAndGlyphs">0</text>
<text x="220.52" y="1576.69" textLength="67.34" lengthAdjust="spacingAndGlyphs">50</text>
<text x="367.23" y="1576.69" textLength="101.01" lengthAdjust="spacingAndGlyphs">100</text>
<text x="528.53" y="1576.69" textLength="101.01" lengthAdjust="spacingAndGlyphs">150</text>
<text x="688.73" y="1576.69" textLength="101.01" lengthAdjust="spacingAndGlyphs">200</text>
<text x="850.03" y="1576.69" textLength="101.01" lengthAdjust="spacingAndGlyphs">250</text>
<text x="1010.83" y="1576.69" textLength="101.01" lengthAdjust="spacingAndGlyphs">300</text>
<text x="1172.53" y="1576.69" textLength="101.01" lengthAdjust="spacingAndGlyphs">350</text>
<text x="1333.83" y="1576.69" textLength="101.01" lengthAdjust="spacingAndGlyphs">400</text>
<text x="1495.23" y="1576.69" textLength="101.01" lengthAdjust="spacingAndGlyphs">450</text>
<text x="1656.63" y="1576.69" textLength="101.01" lengthAdjust="spacingAndGlyphs">500</text>
<text x="1817.43" y="1576.69" textLength="101.01" lengthAdjust="spacingAndGlyphs">550</text>
<text x="1978.23" y="1576.69" textLength="101.01" lengthAdjust="spacingAndGlyphs">600</text>
</g>
<g id="titles" font-size="75.2">
<text x="886.41" y="1692.32" textLength="508.41" lengthAdjust="spacingAndGlyphs">Temperature°C</text>
<text transform="translate(75.5 926.9) rotate(-90)" textLength="315.93" lengthAdjust="spacingAndGlyphs">Weight %</text>
</g>
<g id="legend">
<rect x="1215.87" y="58.33" width="800.26" height="362.09" fill="#fff"/>
<path fill="#000" d="M1215.87 58.33H2016.12V61.38H1215.87zM1215.87 417.38H2016.12V420.43H1215.87zM1215.87 58.33H1218.91V420.43H1215.87zM2013.08 58.33H2016.12V420.43H2013.08zM1221.95 94.85H1240.21V97.89H1221.95zM1258.47 94.85H1273.68V97.89H1258.47zM1291.94 94.85H1310.19V97.89H1291.94zM1325.41 94.85H1343.66V97.89H1325.41zM1221.95 161.79H1346.71V164.83H1221.95z"/>
<path fill="#00ff00" d="M1221.95 228.73H1346.71V231.77H1221.95z"/>
<path fill="#ff0000" d="M1221.95 295.67H1343.66V298.71H1221.95z"/>
<path fill="#0000ff" d="M1221.95 371.74H1346.71V374.78H1221.95z"/>
<g font-size="57.5">
<text x="1358.89" y="113.1" textLength="127.83" lengthAdjust="spacingAndGlyphs">GTex</text>
<text x="1357.94" y="180.05" textLength="257.44" lengthAdjust="spacingAndGlyphs">PLA_NWF</text>
<text x="1358" y="246.99" textLength="415.09" lengthAdjust="spacingAndGlyphs">PLA_NWF_GTex</text>
<text x="1358.29" y="313.93" textLength="383.25" lengthAdjust="spacingAndGlyphs">PLA_100_60_O</text>
<text x="1741.14" y="326.1" textLength="24.06" lengthAdjust="spacingAndGlyphs" font-size="38.6">2</text>
<text x="1763.65" y="313.93" textLength="158.16" lengthAdjust="spacingAndGlyphs">_GTex</text>
<text x="1358.29" y="390" textLength="383.25" lengthAdjust="spacingAndGlyphs">PLA_100_60_O</text>
<text x="1741.14" y="405.21" textLength="24.06" lengthAdjust="spacingAndGlyphs" font-size="38.6">2</text>
<text x="1763.65" y="390" textLength="240.32" lengthAdjust="spacingAndGlyphs">_Ar_GTex</text>
</g>
</g>
<g id="inset">
<rect x="373.01" y="761.22" width="763.74" height="614.65" fill="#fff"/>
<path fill="#000" d="M805.09 943.79H808.13V946.83H805.09zM802.05 946.83H808.13V949.87H802.05zM802.05 949.87H805.09V952.92H802.05zM808.13 949.87H811.17V959H808.13zM799 952.92H802.05V959H799zM795.96 959H799V974.22H795.96zM792.92 974.22H795.96V992.47H792.92zM789.88 992.47H792.92V1010.73H789.88zM954.19 998.56H957.23V1001.6H954.19zM957.23 1001.6H960.27V1004.64H957.23zM951.14 1007.69H954.19V1016.82H951.14zM786.83 1010.73H789.88V1032.03H786.83zM960.27 1010.73H963.31V1016.82H960.27zM963.31 1016.82H966.36V1019.86H963.31zM948.1 1022.9H951.14V1032.03H948.1zM963.31 1025.94H966.36V1032.03H963.31zM783.79 1032.03H786.83V1050.29H783.79zM948.1 1038.11H951.14V1047.24H948.1zM966.36 1041.16H969.4V1044.2H966.36zM969.4 1044.2H972.44V1047.24H969.4zM780.75 1050.29H783.79V1068.54H780.75zM948.1 1053.33H951.14V1062.46H948.1zM969.4 1056.37H972.44V1059.41H969.4zM972.44 1059.41H975.49V1062.46H972.44zM777.7 1068.54H780.75V1086.8H777.7zM945.06 1068.54H948.1V1074.63H945.06zM972.44 1068.54H975.49V1077.67H972.44zM945.06 1083.76H948.1V1089.84H945.06zM972.44 1083.76H975.49V1089.84H972.44zM774.66 1086.8H777.7V1102.01H774.66zM975.49 1089.84H978.53V1092.89H975.49zM945.06 1098.97H948.1V1105.06H945.06zM975.49 1098.97H978.53V1105.06H975.49zM771.62 1102.01H774.66V1114.18H771.62zM823.35 1105.06H826.39V1120.27H823.35zM768.58 1114.18H771.62V1129.4H768.58zM942.02 1114.18H945.06V1120.27H942.02zM978.53 1114.18H981.57V1117.23H978.53zM981.57 1117.23H984.61V1120.27H981.57zM984.61 1126.36H987.66V1135.48H984.61zM765.53 1129.4H768.58V1141.57H765.53zM942.02 1129.4H945.06V1135.48H942.02zM938.97 1141.57H942.02V1150.7H938.97zM987.66 1141.57H990.7V1150.7H987.66zM762.49 1147.66H765.53V1153.74H762.49zM826.39 1156.78H829.43V1187.21H826.39zM938.97 1156.78H942.02V1165.91H938.97zM990.7 1156.78H993.74V1162.87H990.7zM935.93 1172H938.97V1181.13H935.93zM993.74 1172H996.79V1175.04H993.74zM996.79 1175.04H999.83V1178.08H996.79zM750.32 1178.08H753.36V1184.17H750.32zM996.79 1184.17H999.83V1190.25H996.79zM932.89 1187.21H935.93V1193.3H932.89zM999.83 1190.25H1002.87V1193.3H999.83zM999.83 1199.38H1002.87V1205.47H999.83zM932.89 1202.43H935.93V1208.51H932.89zM741.19 1208.51H744.23V1211.55H741.19zM1002.87 1214.6H1005.91V1220.68H1002.87zM932.89 1217.64H935.93V1223.73H932.89zM735.1 1220.68H738.15V1223.73H735.1zM586.01 1226.77H589.05V1229.81H586.01zM595.14 1226.77H598.18V1232.85H595.14zM732.06 1226.77H735.1V1229.81H732.06zM582.96 1229.81H586.01V1235.9H582.96zM729.02 1229.81H732.06V1232.85H729.02zM926.8 1229.81H929.84V1235.9H926.8zM1005.91 1229.81H1008.96V1235.9H1005.91zM604.26 1232.85H607.31V1235.9H604.26zM725.98 1232.85H729.02V1235.9H725.98zM601.22 1235.9H604.26V1238.94H601.22zM722.93 1235.9H725.98V1241.98H722.93zM923.76 1235.9H926.8V1238.94H923.76zM607.31 1238.94H610.35V1241.98H607.31zM576.88 1241.98H579.92V1248.07H576.88zM610.35 1241.98H613.39V1248.07H610.35zM716.85 1241.98H722.93V1245.03H716.85zM826.39 1241.98H829.43V1248.07H826.39zM1008.96 1241.98H1012V1251.11H1008.96zM713.81 1245.03H716.85V1251.11H713.81zM920.72 1245.03H923.76V1251.11H920.72zM710.76 1251.11H713.81V1257.2H710.76zM573.84 1254.15H576.88V1263.28H573.84zM613.39 1254.15H616.44V1257.2H613.39zM616.44 1257.2H619.48V1260.24H616.44zM707.72 1257.2H710.76V1260.24H707.72zM1012 1257.2H1015.04V1260.24H1012zM625.56 1260.24H628.61V1263.28H625.56zM704.68 1260.24H707.72V1263.28H704.68zM917.67 1260.24H920.72V1263.28H917.67zM1015.04 1260.24H1018.09V1263.28H1015.04zM628.61 1263.28H631.65V1266.32H628.61zM701.63 1263.28H704.68V1266.32H701.63zM710.76 1263.28H716.85V1266.32H710.76zM722.93 1263.28H725.98V1266.32H722.93zM914.63 1263.28H917.67V1266.32H914.63zM637.74 1266.32H643.82V1269.37H637.74zM698.59 1266.32H704.68V1269.37H698.59zM735.1 1266.32H741.19V1269.37H735.1zM747.28 1266.32H750.32V1269.37H747.28zM567.75 1269.37H570.79V1275.45H567.75zM649.91 1269.37H652.95V1272.41H649.91zM686.42 1269.37H692.51V1272.41H686.42zM695.55 1269.37H698.59V1275.45H695.55zM750.32 1269.37H753.36V1272.41H750.32zM652.95 1272.41H655.99V1275.45H652.95zM662.08 1272.41H668.16V1275.45H662.08zM674.25 1272.41H680.33V1275.45H674.25zM759.45 1272.41H765.53V1275.45H759.45zM908.54 1272.41H911.59V1275.45H908.54zM1018.09 1272.41H1021.13V1278.5H1018.09zM692.51 1275.45H695.55V1281.54H692.51zM771.62 1275.45H774.66V1278.5H771.62zM905.5 1275.45H908.54V1278.5H905.5zM774.66 1278.5H777.7V1281.54H774.66zM783.79 1278.5H789.88V1281.54H783.79zM795.96 1278.5H799V1281.54H795.96zM835.52 1278.5H838.56V1281.54H835.52zM844.65 1278.5H850.73V1281.54H844.65zM856.82 1278.5H862.9V1281.54H856.82zM868.99 1278.5H875.07V1281.54H868.99zM881.16 1278.5H887.24V1281.54H881.16zM561.67 1281.54H564.71V1284.58H561.67zM689.46 1281.54H692.51V1284.58H689.46zM799 1281.54H802.05V1284.58H799zM808.13 1281.54H814.22V1284.58H808.13zM820.3 1281.54H826.39V1284.58H820.3zM893.33 1281.54H899.42V1284.58H893.33zM558.62 1284.58H561.67V1287.62H558.62zM686.42 1284.58H689.46V1287.62H686.42zM683.38 1287.62H686.42V1290.67H683.38zM1018.09 1287.62H1021.13V1293.71H1018.09zM534.28 1290.67H540.37V1293.71H534.28zM546.45 1290.67H552.54V1293.71H546.45zM680.33 1290.67H683.38V1296.75H680.33zM525.15 1296.75H528.19V1302.84H525.15zM677.29 1296.75H680.33V1299.8H677.29zM424.74 1299.8H430.82V1302.84H424.74zM436.91 1299.8H443V1302.84H436.91zM674.25 1299.8H677.29V1302.84H674.25zM1021.13 1299.8H1024.17V1302.84H1021.13zM412.57 1302.84H418.65V1305.88H412.57zM449.08 1302.84H455.17V1305.88H449.08zM461.25 1302.84H467.34V1305.88H461.25zM522.11 1302.84H525.15V1305.88H522.11zM671.21 1302.84H674.25V1308.92H671.21zM1024.17 1302.84H1027.21V1308.92H1024.17zM1115.45 1302.84H1118.5V1308.92H1115.45zM403.44 1305.88H406.48V1308.92H403.44zM473.42 1305.88H479.51V1308.92H473.42zM1121.54 1305.88H1124.58V1308.92H1121.54zM400.4 1308.92H403.44V1311.97H400.4zM485.6 1308.92H491.68V1311.97H485.6zM668.16 1308.92H671.21V1311.97H668.16zM832.47 1308.92H835.52V1315.01H832.47zM1124.58 1308.92H1127.63V1311.97H1124.58zM388.23 1311.97H394.31V1315.01H388.23zM497.77 1311.97H503.85V1315.01H497.77zM509.94 1311.97H516.02V1315.01H509.94zM659.03 1311.97H668.16V1315.01H659.03zM1106.33 1311.97H1109.37V1315.01H1106.33zM537.32 1315.01H540.37V1318.05H537.32zM649.91 1315.01H659.03V1318.05H649.91zM835.52 1315.01H838.56V1318.05H835.52zM902.46 1315.01H908.54V1318.05H902.46zM1030.26 1315.01H1036.34V1318.05H1030.26zM1103.28 1315.01H1106.33V1318.05H1103.28zM376.05 1318.05H382.14V1321.1H376.05zM540.37 1318.05H543.41V1321.1H540.37zM640.78 1318.05H649.91V1321.1H640.78zM838.56 1318.05H841.6V1321.1H838.56zM896.37 1318.05H902.46V1321.1H896.37zM1094.16 1318.05H1097.2V1321.1H1094.16zM1130.67 1318.05H1133.71V1321.1H1130.67zM841.6 1321.1H859.86V1324.14H841.6zM865.95 1321.1H896.37V1324.14H865.95zM920.72 1321.1H923.76V1324.14H920.72zM1042.43 1321.1H1048.51V1324.14H1042.43zM1091.11 1321.1H1094.16V1324.14H1091.11zM397.35 1324.14H403.44V1327.18H397.35zM430.82 1324.14H433.87V1327.18H430.82zM579.92 1324.14H628.61V1327.18H579.92zM859.86 1324.14H865.95V1327.18H859.86zM1054.6 1324.14H1060.68V1327.18H1054.6zM1066.77 1324.14H1072.86V1327.18H1066.77zM1078.94 1324.14H1085.03V1327.18H1078.94zM382.14 1327.18H385.18V1330.22H382.14zM391.27 1327.18H394.31V1330.22H391.27zM543.41 1327.18H546.45V1330.22H543.41zM929.84 1327.18H966.36V1330.22H929.84z"/>
<path fill="#00ff00" d="M799 837.29H802.05V840.33H799zM799 840.33H805.09V843.38H799zM799 843.38H802.05V846.42H799zM805.09 843.38H808.13V852.5H805.09zM795.96 846.42H799V864.68H795.96zM808.13 852.5H811.17V873.8H808.13zM792.92 864.68H795.96V885.97H792.92zM811.17 873.8H814.22V904.23H811.17zM789.88 885.97H792.92V910.32H789.88zM814.22 904.23H817.26V952.92H814.22zM786.83 910.32H789.88V934.66H786.83zM783.79 934.66H786.83V959H783.79zM780.75 962.04H783.79V980.3H780.75zM817.26 980.3H820.3V1010.73H817.26zM777.7 986.39H780.75V1004.64H777.7zM774.66 1010.73H777.7V1032.03H774.66zM820.3 1022.9H823.35V1102.01H820.3zM771.62 1035.07H774.66V1056.37H771.62zM768.58 1059.41H771.62V1080.71H768.58zM765.53 1083.76H768.58V1098.97H765.53zM762.49 1102.01H765.53V1117.23H762.49zM759.45 1120.27H762.49V1135.48H759.45zM823.35 1120.27H826.39V1187.21H823.35zM756.4 1138.53H759.45V1153.74H756.4zM753.36 1153.74H756.4V1165.91H753.36zM750.32 1165.91H753.36V1178.08H750.32zM747.28 1178.08H750.32V1193.3H747.28zM826.39 1187.21H829.43V1241.98H826.39zM744.23 1193.3H747.28V1202.43H744.23zM741.19 1202.43H744.23V1208.51H741.19zM738.15 1208.51H741.19V1223.73H738.15zM735.1 1223.73H738.15V1235.9H735.1zM732.06 1235.9H735.1V1241.98H732.06zM729.02 1241.98H732.06V1263.28H729.02zM829.43 1241.98H832.47V1278.5H829.43zM725.98 1263.28H729.02V1269.37H725.98zM722.93 1269.37H725.98V1275.45H722.93zM719.89 1275.45H722.93V1278.5H719.89zM716.85 1278.5H719.89V1284.58H716.85zM832.47 1278.5H835.52V1299.8H832.47zM713.81 1284.58H716.85V1290.67H713.81zM710.76 1290.67H713.81V1296.75H710.76zM707.72 1296.75H710.76V1299.8H707.72zM704.68 1299.8H707.72V1305.88H704.68zM835.52 1299.8H838.56V1305.88H835.52zM896.37 1302.84H905.5V1305.88H896.37zM701.63 1305.88H704.68V1308.92H701.63zM905.5 1305.88H911.59V1308.92H905.5zM698.59 1308.92H701.63V1315.01H698.59zM911.59 1308.92H920.72V1311.97H911.59zM920.72 1311.97H929.84V1315.01H920.72zM689.46 1315.01H698.59V1318.05H689.46zM929.84 1315.01H932.89V1321.1H929.84zM534.28 1318.05H537.32V1321.1H534.28zM586.01 1318.05H592.09V1321.1H586.01zM607.31 1318.05H622.52V1321.1H607.31zM625.56 1318.05H628.61V1321.1H625.56zM634.69 1318.05H637.74V1321.1H634.69zM649.91 1318.05H689.46V1321.1H649.91zM549.49 1321.1H552.54V1324.14H549.49zM555.58 1321.1H561.67V1324.14H555.58zM564.71 1321.1H573.84V1324.14H564.71zM394.31 1324.14H397.35V1327.18H394.31zM415.61 1324.14H427.78V1327.18H415.61zM436.91 1324.14H449.08V1327.18H436.91zM452.12 1324.14H455.17V1327.18H452.12zM458.21 1324.14H461.25V1327.18H458.21zM531.24 1324.14H534.28V1327.18H531.24zM1094.16 1324.14H1100.24V1327.18H1094.16zM400.4 1330.22H403.44V1333.27H400.4zM975.49 1330.22H978.53V1333.27H975.49zM990.7 1330.22H993.74V1333.27H990.7zM1012 1330.22H1018.09V1333.27H1012zM1024.17 1330.22H1033.3V1333.27H1024.17zM1100.24 1330.22H1103.28V1333.27H1100.24z"/>
<path fill="#ff0000" d="M799 873.8H802.05V876.85H799zM799 876.85H805.09V879.89H799zM795.96 879.89H799V895.1H795.96zM802.05 879.89H805.09V882.93H802.05zM805.09 882.93H808.13V898.15H805.09zM792.92 895.1H795.96V913.36H792.92zM808.13 898.15H811.17V934.66H808.13zM789.88 913.36H792.92V934.66H789.88zM786.83 934.66H789.88V959H786.83zM811.17 934.66H814.22V986.39H811.17zM783.79 959H786.83V980.3H783.79zM780.75 980.3H783.79V1004.64H780.75zM814.22 986.39H817.26V1086.8H814.22zM777.7 1004.64H780.75V1032.03H777.7zM774.66 1032.03H777.7V1056.37H774.66zM771.62 1056.37H774.66V1080.71H771.62zM768.58 1080.71H771.62V1098.97H768.58zM817.26 1086.8H820.3V1147.66H817.26zM765.53 1098.97H768.58V1117.23H765.53zM762.49 1117.23H765.53V1135.48H762.49zM759.45 1135.48H762.49V1153.74H759.45zM820.3 1147.66H823.35V1208.51H820.3zM756.4 1153.74H759.45V1168.96H756.4zM753.36 1168.96H756.4V1184.17H753.36zM750.32 1184.17H753.36V1196.34H750.32zM747.28 1196.34H750.32V1208.51H747.28zM744.23 1208.51H747.28V1223.73H744.23zM823.35 1208.51H826.39V1248.07H823.35zM741.19 1223.73H744.23V1235.9H741.19zM738.15 1235.9H741.19V1245.03H738.15zM735.1 1245.03H738.15V1254.15H735.1zM826.39 1248.07H829.43V1278.5H826.39zM732.06 1254.15H735.1V1263.28H732.06zM729.02 1263.28H732.06V1269.37H729.02zM725.98 1269.37H729.02V1275.45H725.98zM722.93 1275.45H725.98V1278.5H722.93zM719.89 1278.5H722.93V1287.62H719.89zM829.43 1278.5H832.47V1299.8H829.43zM716.85 1287.62H719.89V1296.75H716.85zM713.81 1296.75H716.85V1299.8H713.81zM710.76 1299.8H713.81V1305.88H710.76zM832.47 1299.8H835.52V1305.88H832.47zM887.24 1299.8H893.33V1302.84H887.24zM881.16 1302.84H887.24V1305.88H881.16zM893.33 1302.84H896.37V1308.92H893.33zM707.72 1305.88H710.76V1308.92H707.72zM835.52 1305.88H841.6V1308.92H835.52zM875.07 1305.88H881.16V1308.92H875.07zM704.68 1308.92H707.72V1311.97H704.68zM841.6 1308.92H850.73V1311.97H841.6zM865.95 1308.92H875.07V1311.97H865.95zM896.37 1308.92H902.46V1311.97H896.37zM701.63 1311.97H704.68V1318.05H701.63zM850.73 1311.97H865.95V1315.01H850.73zM902.46 1311.97H908.54V1315.01H902.46zM908.54 1315.01H914.63V1318.05H908.54zM595.14 1318.05H598.18V1321.1H595.14zM698.59 1318.05H701.63V1321.1H698.59zM914.63 1318.05H917.67V1321.1H914.63zM531.24 1321.1H534.28V1324.14H531.24zM573.84 1321.1H698.59V1324.14H573.84zM917.67 1321.1H920.72V1324.14H917.67zM932.89 1321.1H957.23V1324.14H932.89zM373.01 1324.14H388.23V1327.18H373.01zM391.27 1324.14H394.31V1327.18H391.27zM403.44 1324.14H415.61V1327.18H403.44zM427.78 1324.14H430.82V1327.18H427.78zM433.87 1324.14H436.91V1327.18H433.87zM449.08 1324.14H452.12V1327.18H449.08zM455.17 1324.14H458.21V1327.18H455.17zM461.25 1324.14H531.24V1327.18H461.25zM534.28 1324.14H573.84V1327.18H534.28zM920.72 1324.14H932.89V1327.18H920.72zM957.23 1324.14H969.4V1327.18H957.23zM388.23 1327.18H391.27V1330.22H388.23zM394.31 1327.18H449.08V1330.22H394.31zM452.12 1327.18H455.17V1330.22H452.12zM458.21 1327.18H461.25V1330.22H458.21zM537.32 1327.18H540.37V1330.22H537.32zM546.45 1327.18H549.49V1330.22H546.45zM972.44 1327.18H996.79V1330.22H972.44zM999.83 1327.18H1088.07V1330.22H999.83zM1091.11 1327.18H1130.67V1330.22H1091.11z"/>
<path fill="#0000ff" d="M802.05 885.97H805.09V889.02H802.05zM799 889.02H805.09V892.06H799zM799 892.06H802.05V895.1H799zM795.96 895.1H799V910.32H795.96zM805.09 898.15H808.13V901.19H805.09zM792.92 913.36H795.96V931.62H792.92zM811.17 916.4H814.22V934.66H811.17zM789.88 934.66H792.92V952.92H789.88zM814.22 952.92H817.26V986.39H814.22zM786.83 959H789.88V977.26H786.83zM783.79 980.3H786.83V1001.6H783.79zM780.75 1004.64H783.79V1025.94H780.75zM817.26 1010.73H820.3V1086.8H817.26zM777.7 1032.03H780.75V1047.24H777.7zM774.66 1056.37H777.7V1071.59H774.66zM771.62 1080.71H774.66V1092.89H771.62zM768.58 1098.97H771.62V1111.14H768.58zM820.3 1102.01H823.35V1147.66H820.3zM765.53 1117.23H768.58V1129.4H765.53zM762.49 1135.48H765.53V1147.66H762.49zM759.45 1153.74H762.49V1165.91H759.45zM756.4 1168.96H759.45V1178.08H756.4zM753.36 1184.17H756.4V1193.3H753.36zM750.32 1196.34H753.36V1208.51H750.32zM823.35 1199.38H826.39V1208.51H823.35zM747.28 1208.51H750.32V1220.68H747.28zM744.23 1223.73H747.28V1232.85H744.23zM741.19 1235.9H744.23V1245.03H741.19zM738.15 1245.03H741.19V1254.15H738.15zM823.35 1248.07H826.39V1269.37H823.35zM735.1 1254.15H738.15V1263.28H735.1zM732.06 1263.28H735.1V1272.41H732.06zM729.02 1272.41H732.06V1278.5H729.02zM725.98 1278.5H729.02V1284.58H725.98zM826.39 1278.5H829.43V1293.71H826.39zM722.93 1284.58H725.98V1290.67H722.93zM719.89 1290.67H722.93V1296.75H719.89zM716.85 1296.75H719.89V1299.8H716.85zM713.81 1299.8H716.85V1302.84H713.81zM829.43 1299.8H832.47V1305.88H829.43zM710.76 1305.88H713.81V1308.92H710.76zM832.47 1305.88H835.52V1308.92H832.47zM890.29 1305.88H893.33V1308.92H890.29zM896.37 1305.88H899.42V1308.92H896.37zM707.72 1308.92H710.76V1311.97H707.72zM835.52 1308.92H841.6V1311.97H835.52zM881.16 1308.92H890.29V1311.97H881.16zM902.46 1308.92H908.54V1311.97H902.46zM704.68 1311.97H707.72V1315.01H704.68zM841.6 1311.97H850.73V1315.01H841.6zM865.95 1311.97H881.16V1315.01H865.95zM908.54 1311.97H914.63V1315.01H908.54zM850.73 1315.01H865.95V1318.05H850.73zM914.63 1315.01H917.67V1318.05H914.63zM592.09 1318.05H595.14V1321.1H592.09zM598.18 1318.05H607.31V1321.1H598.18zM917.67 1318.05H923.76V1321.1H917.67zM945.06 1318.05H954.19V1321.1H945.06zM537.32 1321.1H546.45V1324.14H537.32zM923.76 1321.1H932.89V1324.14H923.76zM957.23 1321.1H960.27V1324.14H957.23zM388.23 1324.14H391.27V1327.18H388.23zM573.84 1324.14H579.92V1327.18H573.84zM449.08 1327.18H452.12V1330.22H449.08zM455.17 1327.18H458.21V1330.22H455.17zM461.25 1327.18H470.38V1330.22H461.25zM549.49 1327.18H552.54V1330.22H549.49zM966.36 1327.18H972.44V1330.22H966.36zM996.79 1327.18H999.83V1330.22H996.79zM1088.07 1327.18H1091.11V1330.22H1088.07zM1130.67 1327.18H1133.71V1330.22H1130.67zM433.87 1330.22H439.95V1333.27H433.87z"/>
<path fill="#000" d="M373.01 761.22H1136.75V764.26H373.01zM373.01 1372.82H1136.75V1375.87H373.01zM373.01 761.22H376.05V1375.87H373.01zM1133.71 761.22H1136.75V1375.87H1133.71zM373.01 1372.82H376.05V1388.04H373.01zM439.95 1372.82H443V1388.04H439.95zM509.94 1372.82H512.98V1384.99H509.94zM579.92 1372.82H582.96V1384.99H579.92zM649.91 1372.82H652.95V1388.04H649.91zM716.85 1372.82H719.89V1388.04H716.85zM786.83 1372.82H789.88V1384.99H786.83zM856.82 1372.82H859.86V1384.99H856.82zM926.8 1372.82H929.84V1388.04H926.8zM993.74 1372.82H996.79V1388.04H993.74zM1063.73 1372.82H1066.77V1384.99H1063.73zM1133.71 1372.82H1136.75V1384.99H1133.71zM406.48 1372.82H409.53V1378.91H406.48zM476.47 1372.82H479.51V1378.91H476.47zM546.45 1372.82H549.49V1381.95H546.45zM613.39 1372.82H616.44V1381.95H613.39zM683.38 1372.82H686.42V1378.91H683.38zM753.36 1372.82H756.4V1378.91H753.36zM823.35 1372.82H826.39V1381.95H823.35zM890.29 1372.82H893.33V1381.95H890.29zM960.27 1372.82H963.31V1378.91H960.27zM1030.26 1372.82H1033.3V1378.91H1030.26zM1100.24 1372.82H1103.28V1381.95H1100.24z"/>
<g font-size="30">
<text x="357.95" y="1415.42" textLength="30.03" lengthAdjust="spacingAndGlyphs">50</text>
<text x="419.18" y="1415.42" textLength="45.05" lengthAdjust="spacingAndGlyphs">100</text>
<text x="488.88" y="1415.42" textLength="45.05" lengthAdjust="spacingAndGlyphs">150</text>
<text x="557.02" y="1415.42" textLength="45.05" lengthAdjust="spacingAndGlyphs">200</text>
<text x="627.42" y="1415.42" textLength="45.05" lengthAdjust="spacingAndGlyphs">250</text>
<text x="696.32" y="1415.42" textLength="45.05" lengthAdjust="spacingAndGlyphs">300</text>
<text x="765.82" y="1415.42" textLength="45.05" lengthAdjust="spacingAndGlyphs">350</text>
<text x="834.62" y="1415.42" textLength="45.05" lengthAdjust="spacingAndGlyphs">400</text>
<text x="904.73" y="1415.42" textLength="45.05" lengthAdjust="spacingAndGlyphs">450</text>
<text x="972.75" y="1415.42" textLength="45.05" lengthAdjust="spacingAndGlyphs">500</text>
<text x="1042.36" y="1415.42" textLength="45.05" lengthAdjust="spacingAndGlyphs">550</text>
<text x="1111.62" y="1415.42" textLength="45.05" lengthAdjust="spacingAndGlyphs">600</text>
</g>
<g font-size="35.4">
<text x="637.96" y="1464.11" textLength="228.75" lengthAdjust="spacingAndGlyphs">Temperature °C</text>
<text transform="translate(321.3 1197.97) rotate(-90)" textLength="261.91" lengthAdjust="spacingAndGlyphs">DTG (wt/time a.u.)</text>
</g>
</g>
</svg></body></html>
